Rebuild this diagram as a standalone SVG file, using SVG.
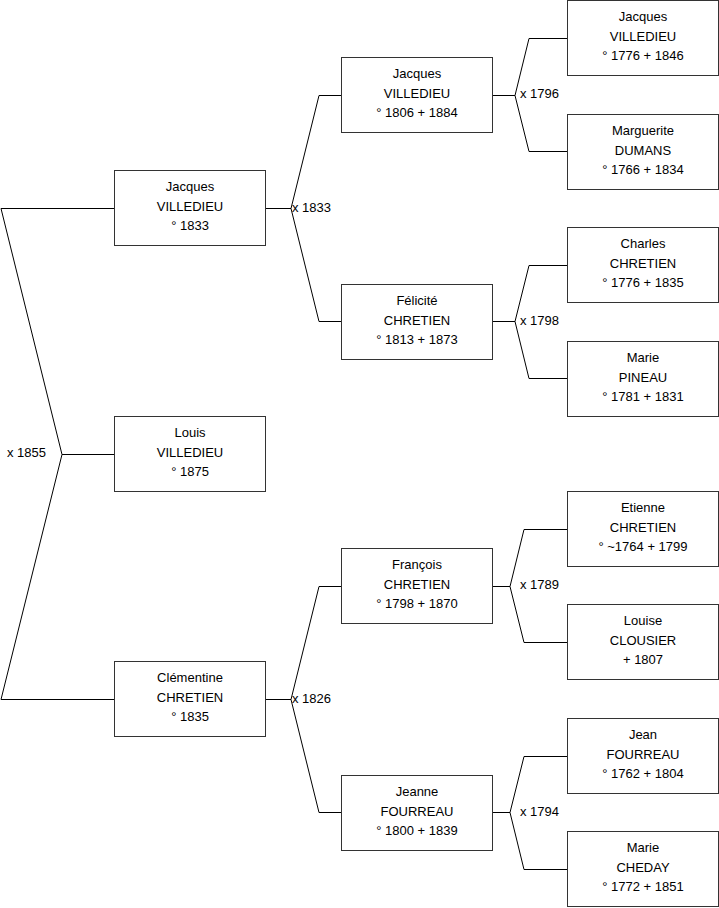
<svg xmlns="http://www.w3.org/2000/svg" width="719" height="908" viewBox="0 0 719 908">
<style>
.box{fill:#fff;stroke:#333;stroke-width:1}
.ln{fill:none;stroke:#000;stroke-width:1}
text{font-family:"Liberation Sans",Arial,sans-serif;font-size:13px;fill:#000}
.c{text-anchor:middle}
</style>
<rect width="719" height="908" fill="#fff"/>
<g id="connectors">
<polyline class="ln" points="114,208.5 1,208.5 62,454.5 1,699.5 114,699.5"/>
<line class="ln" x1="62" y1="454.5" x2="114" y2="454.5"/>
<polyline class="ln" points="265,208.5 291,208.5"/>
<polyline class="ln" points="341,95.5 319,95.5 291,208.5 319,321.5 341,321.5"/>
<polyline class="ln" points="265,699.5 291,699.5"/>
<polyline class="ln" points="341,586.5 319,586.5 291,699.5 319,812.5 341,812.5"/>
<polyline class="ln" points="492,95.5 515,95.5"/>
<polyline class="ln" points="567,38.5 529,38.5 515,95.5 529,151.5 567,151.5"/>
<polyline class="ln" points="492,321.5 515,321.5"/>
<polyline class="ln" points="567,265.5 529,265.5 515,321.5 529,378.5 567,378.5"/>
<polyline class="ln" points="492,586.5 510,586.5"/>
<polyline class="ln" points="567,529.5 524,529.5 510,586.5 524,642.5 567,642.5"/>
<polyline class="ln" points="492,812.5 510,812.5"/>
<polyline class="ln" points="567,756.5 524,756.5 510,812.5 524,869.5 567,869.5"/>
<text x="7" y="457">x 1855</text>
<text x="292" y="212">x 1833</text>
<text x="292" y="703">x 1826</text>
<text x="520" y="98">x 1796</text>
<text x="520" y="325">x 1798</text>
<text x="520" y="589">x 1789</text>
<text x="520" y="816">x 1794</text>
</g>
<g id="n-jacques-1833"><rect class="box" x="114.5" y="170.5" width="151" height="75"/><text class="c" x="190" y="191">Jacques</text><text class="c" x="190" y="211">VILLEDIEU</text><text class="c" x="190" y="230">° 1833</text></g>
<g id="n-louis"><rect class="box" x="114.5" y="416.5" width="151" height="75"/><text class="c" x="190" y="437">Louis</text><text class="c" x="190" y="457">VILLEDIEU</text><text class="c" x="190" y="476">° 1875</text></g>
<g id="n-clementine"><rect class="box" x="114.5" y="661.5" width="151" height="75"/><text class="c" x="190" y="682">Clémentine</text><text class="c" x="190" y="702">CHRETIEN</text><text class="c" x="190" y="721">° 1835</text></g>
<g id="n-jacques-1806"><rect class="box" x="341.5" y="57.5" width="151" height="75"/><text class="c" x="417" y="78">Jacques</text><text class="c" x="417" y="98">VILLEDIEU</text><text class="c" x="417" y="117">° 1806 + 1884</text></g>
<g id="n-felicite"><rect class="box" x="341.5" y="284.5" width="151" height="75"/><text class="c" x="417" y="305">Félicité</text><text class="c" x="417" y="325">CHRETIEN</text><text class="c" x="417" y="344">° 1813 + 1873</text></g>
<g id="n-francois"><rect class="box" x="341.5" y="548.5" width="151" height="75"/><text class="c" x="417" y="569">François</text><text class="c" x="417" y="589">CHRETIEN</text><text class="c" x="417" y="608">° 1798 + 1870</text></g>
<g id="n-jeanne"><rect class="box" x="341.5" y="775.5" width="151" height="75"/><text class="c" x="417" y="796">Jeanne</text><text class="c" x="417" y="816">FOURREAU</text><text class="c" x="417" y="835">° 1800 + 1839</text></g>
<g id="n-jacques-1776"><rect class="box" x="567.5" y="0.5" width="151" height="75"/><text class="c" x="643" y="21">Jacques</text><text class="c" x="643" y="41">VILLEDIEU</text><text class="c" x="643" y="60">° 1776 + 1846</text></g>
<g id="n-marguerite"><rect class="box" x="567.5" y="114.5" width="151" height="75"/><text class="c" x="643" y="135">Marguerite</text><text class="c" x="643" y="155">DUMANS</text><text class="c" x="643" y="174">° 1766 + 1834</text></g>
<g id="n-charles"><rect class="box" x="567.5" y="227.5" width="151" height="75"/><text class="c" x="643" y="248">Charles</text><text class="c" x="643" y="268">CHRETIEN</text><text class="c" x="643" y="287">° 1776 + 1835</text></g>
<g id="n-marie-pineau"><rect class="box" x="567.5" y="341.5" width="151" height="75"/><text class="c" x="643" y="362">Marie</text><text class="c" x="643" y="382">PINEAU</text><text class="c" x="643" y="401">° 1781 + 1831</text></g>
<g id="n-etienne"><rect class="box" x="567.5" y="491.5" width="151" height="75"/><text class="c" x="643" y="512">Etienne</text><text class="c" x="643" y="532">CHRETIEN</text><text class="c" x="643" y="551">° ~1764 + 1799</text></g>
<g id="n-louise"><rect class="box" x="567.5" y="604.5" width="151" height="75"/><text class="c" x="643" y="625">Louise</text><text class="c" x="643" y="645">CLOUSIER</text><text class="c" x="643" y="664">+ 1807</text></g>
<g id="n-jean"><rect class="box" x="567.5" y="718.5" width="151" height="75"/><text class="c" x="643" y="739">Jean</text><text class="c" x="643" y="759">FOURREAU</text><text class="c" x="643" y="778">° 1762 + 1804</text></g>
<g id="n-marie-cheday"><rect class="box" x="567.5" y="831.5" width="151" height="75"/><text class="c" x="643" y="852">Marie</text><text class="c" x="643" y="872">CHEDAY</text><text class="c" x="643" y="891">° 1772 + 1851</text></g>
</svg>
